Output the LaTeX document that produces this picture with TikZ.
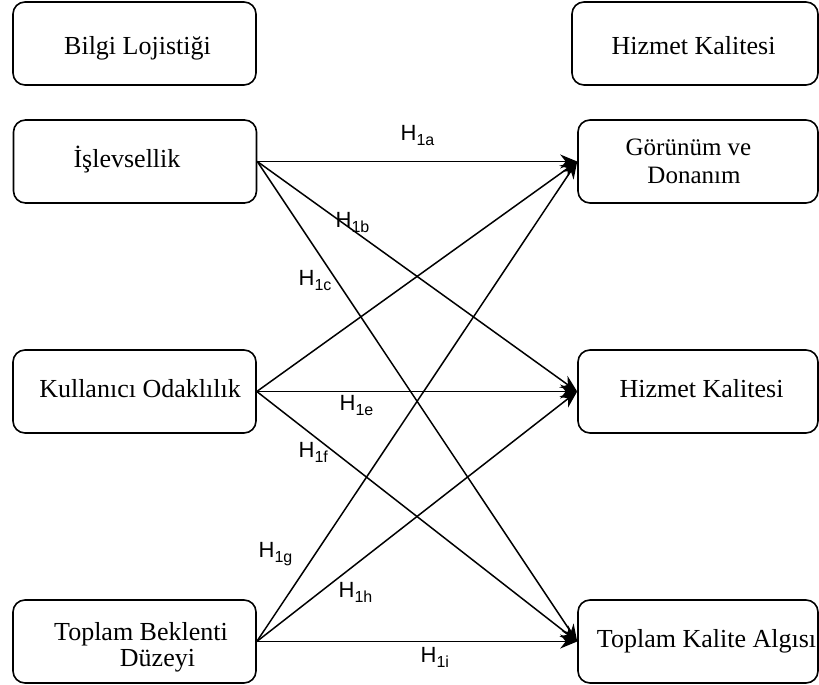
\documentclass[tikz,border=0pt]{standalone}
\usepackage{fontspec}
\setmainfont{Liberation Serif}
\newfontfamily\labfont{Liberation Sans}
\usetikzlibrary{arrows.meta}
\newcommand{\hsub}[1]{H\raisebox{-5pt}{\fontsize{16}{16}\selectfont #1}}
\begin{document}
\begin{tikzpicture}[x=1pt,y=-1pt,
  box/.style={draw, line width=1.6pt, rounded corners=12pt, minimum width=243pt, minimum height=83pt, inner sep=0pt},
  txt/.style={anchor=base, inner sep=0pt, font=\fontsize{26}{26}\selectfont},
  stxt/.style={anchor=base, inner sep=0pt, font=\fontsize{25}{25}\selectfont},
  conn/.style={line width=1.5pt, -{Stealth[length=17pt,width=14pt]}},
  hlab/.style={anchor=base west, inner sep=0pt, font=\labfont\fontsize{22}{22}\selectfont}]
\useasboundingbox (0,0) rectangle (819,685);

% left boxes
\node[box] (bl) at (134.5,43.5) {};
\node[box] (is) at (135,161.5) {};
\node[box] (ku) at (134.5,391.5) {};
\node[box] (tb) at (134.5,641.5) {};
% right boxes
\node[box, minimum width=246pt] (hz) at (695,43.5) {};
\node[box, minimum width=240pt] (gd) at (698,161.5) {};
\node[box, minimum width=240pt] (hk) at (698,391.5) {};
\node[box, minimum width=240pt] (tk) at (698,641.5) {};

% texts
\node[txt] (tbl) at (137.5,55) {Bilgi Lojistiği};
\node[txt] (tis) at (127,167) {İşlevsellik};
\node[txt] (tku) at (140,397) {Kullanıcı Odaklılık};
\node[txt] (ttb1) at (141,640) {Toplam Beklenti};
\node[txt] (ttb2) at (157.5,666.5) {Düzeyi};
\node[txt] (thz) at (693.5,55) {Hizmet Kalitesi};
\node[stxt] (tgd1) at (688.5,155) {Görünüm ve};
\node[stxt] (tgd2) at (694,183) {Donanım};
\node[txt] (thk) at (701.5,397) {Hizmet Kalitesi};
\node[txt] (ttk) at (706.5,647) {Toplam Kalite Algısı};

% connectors
\draw[conn] (is.east) -- (gd.west);
\draw[conn] (is.east) -- (hk.west);
\draw[conn] (is.east) -- (tk.west);
\draw[conn] (ku.east) -- (gd.west);
\draw[conn] (ku.east) -- (hk.west);
\draw[conn] (ku.east) -- (tk.west);
\draw[conn] (tb.east) -- (gd.west);
\draw[conn] (tb.east) -- (hk.west);
\draw[conn] (tb.east) -- (tk.west);

% labels
\node[hlab] (la) at (400.5,140) {\hsub{1a}};
\node[hlab] (lb) at (335.5,227) {\hsub{1b}};
\node[hlab] (lc) at (298.5,285) {\hsub{1c}};
\node[hlab] (le) at (339.5,410) {\hsub{1e}};
\node[hlab] (lf) at (298.5,457) {\hsub{1f}};
\node[hlab] (lg) at (258.5,557) {\hsub{1g}};
\node[hlab] (lh) at (338.5,597) {\hsub{1h}};
\node[hlab] (li) at (420.5,662) {\hsub{1i}};
\end{tikzpicture}
\end{document}
